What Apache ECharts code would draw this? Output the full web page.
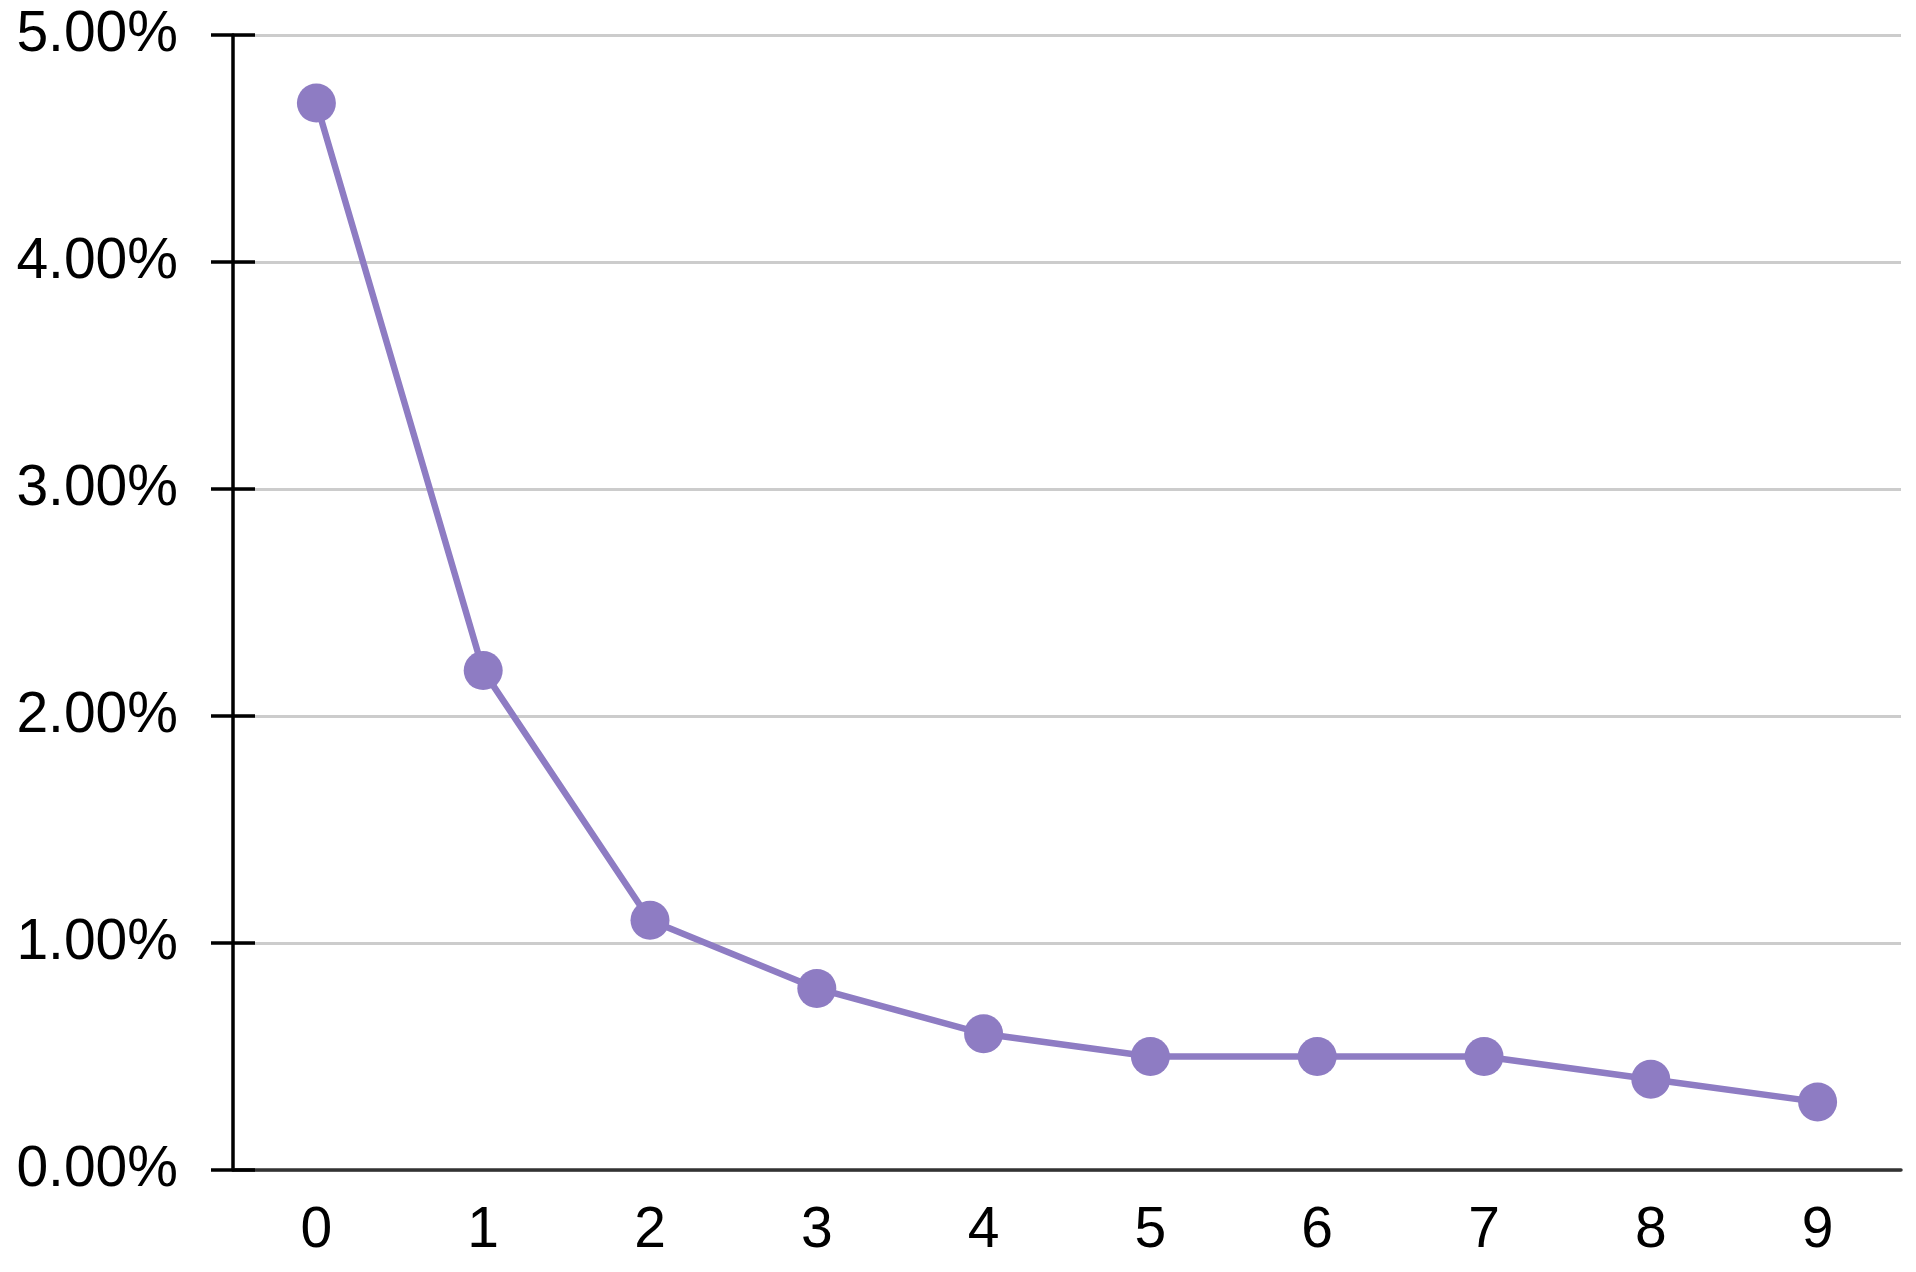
<!DOCTYPE html>
<html>
<head>
<meta charset="utf-8">
<script src="https://cdn.jsdelivr.net/npm/echarts@6/dist/echarts.min.js"></script>
<style>
  html, body { margin: 0; padding: 0; background: #fff; }
  #chart { width: 1916px; height: 1272px; }
</style>
</head>
<body>
<div id="chart"></div>
<script>
// chart data
const categories = ["0", "1", "2", "3", "4", "5", "6", "7", "8", "9"];
const values = [4.7, 2.2, 1.1, 0.8, 0.6, 0.5, 0.5, 0.5, 0.4, 0.3]; // percent

const chart = echarts.init(document.getElementById("chart"));

const labelFont = {
    fontFamily: "Liberation Sans, Arial, sans-serif",
    fontSize: 57,
    color: "#000"
};

chart.setOption({
    animation: false,
    grid: { left: 233, right: 15, top: 35, bottom: 102 },
    xAxis: {
        type: "category",
        data: categories,
        boundaryGap: true,
        axisLine: { lineStyle: { color: "#333", width: 3.5 } },
        axisTick: { show: false },
        axisLabel: Object.assign({ margin: 33 }, labelFont)
    },
    yAxis: [
        {
            type: "value",
            min: 0,
            max: 5,
            interval: 1,
            axisLine: { show: true, lineStyle: { color: "#000", width: 3.5 } },
            axisTick: { show: true, inside: false, length: 22, lineStyle: { color: "#000", width: 3.5 } },
            axisLabel: Object.assign({
                margin: 55,
                formatter: (v) => v.toFixed(2) + "%"
            }, labelFont),
            splitLine: { show: true, lineStyle: { color: "#cccccc", width: 3 } }
        },
        {
            // second copy only to draw the inner half of each tick
            type: "value",
            position: "left",
            min: 0,
            max: 5,
            interval: 1,
            axisLine: { show: false },
            axisTick: { show: true, inside: true, length: 22, lineStyle: { color: "#000", width: 3.5 } },
            axisLabel: { show: false },
            splitLine: { show: false }
        }
    ],
    series: [
        {
            type: "line",
            data: values,
            symbol: "circle",
            symbolSize: 39,
            lineStyle: { color: "#8e7cc3", width: 6.5 },
            itemStyle: { color: "#8e7cc3" },
            z: 5
        }
    ]
});
</script>
</body>
</html>
